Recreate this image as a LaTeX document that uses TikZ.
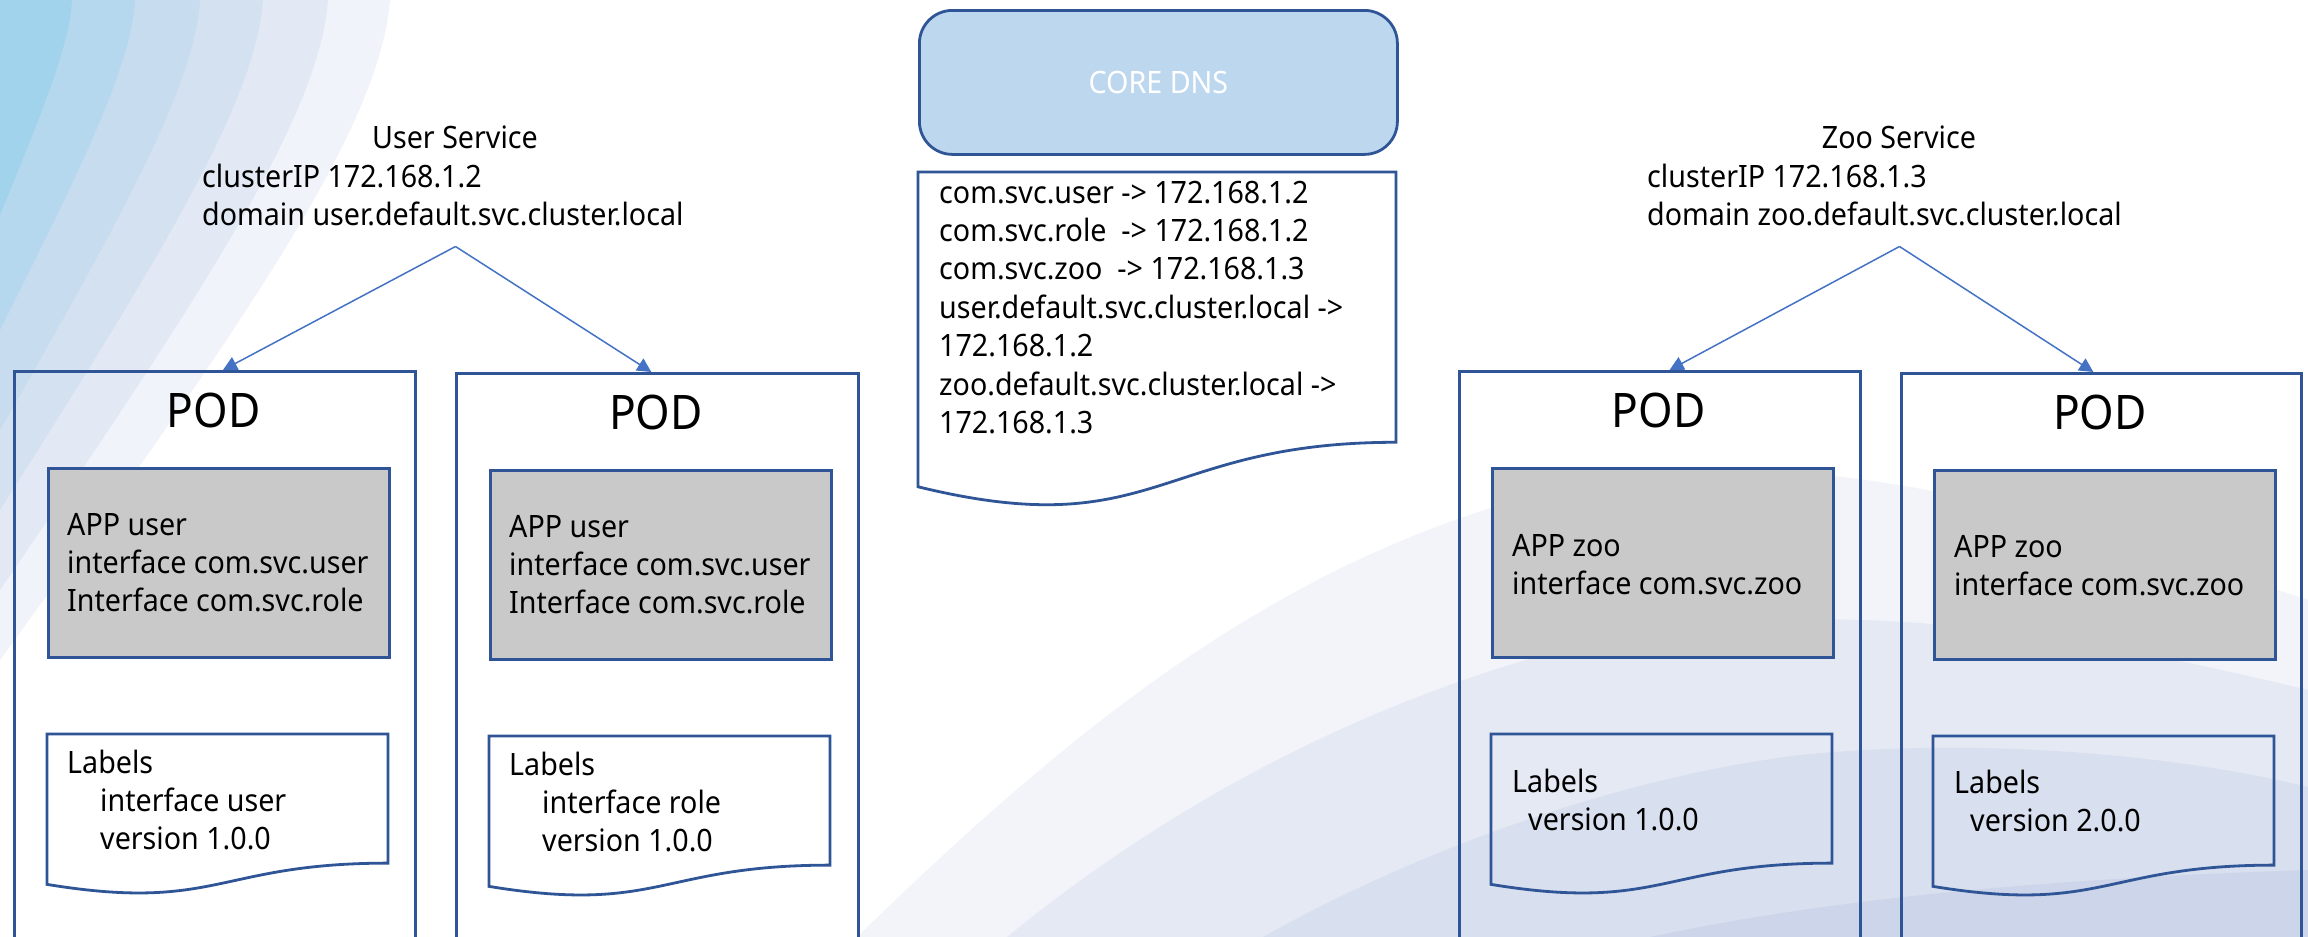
\documentclass[tikz,border=0pt]{standalone}
\usepackage{fontspec}
\setmainfont{Noto Sans}[FakeStretch=0.93]
\usetikzlibrary{arrows.meta,calc}

\definecolor{edgeblue}{HTML}{2F5597}
\definecolor{linkblue}{HTML}{4472C4}
\definecolor{dnsfill}{HTML}{BDD7EE}
\definecolor{appfill}{HTML}{C9C9C9}
\definecolor{skyA}{HTML}{F0F3F9}
\definecolor{skyB}{HTML}{E2E9F4}
\definecolor{skyC}{HTML}{D4E1F1}
\definecolor{skyD}{HTML}{C7DCEF}
\definecolor{skyE}{HTML}{B6D8EE}
\definecolor{skyF}{HTML}{A2D3EC}
\definecolor{waveA}{HTML}{F2F4FA}
\definecolor{waveB}{HTML}{E4E9F4}
\definecolor{waveC}{HTML}{D8DFEE}
\definecolor{waveD}{HTML}{CCD5E9}

\newcommand\bodyfont{\fontsize{30.8}{38.4}\selectfont}
\newcommand\podfont{\fontsize{47.6}{56}\selectfont}
\newcommand\lines[1]{\begin{tabular}[t]{@{}l@{}}#1\end{tabular}}

% curved band of the upper-left backdrop: top edge at x=#1, left edge at y=#2
\newcommand\tlband[3]{\fill[#3] (0,0) -- (#1,0)
  .. controls ({0.974*#1},{0.197*#2}) and ({0.615*#1},{0.5*#2}) .. (0,#2) -- cycle;}

% wavy-bottom document outline around a placeholder node
\newcommand\docpath[1]{\draw[shapeline] (#1.north west) -- (#1.north east)
  -- ($(#1.north east)!0.802!(#1.south east)$)
  .. controls ($(#1.north)!0.802!(#1.south)$) and ($(#1.north)!1.1075!(#1.south)$)
  .. ($(#1.north west)!0.934!(#1.south west)$) -- cycle;}

\tikzset{
  shapeline/.style={draw=edgeblue, line width=2.8pt},
  podbox/.style={shapeline, rectangle, anchor=north west, inner sep=0,
    minimum width=401, minimum height=640},
  appbox/.style={shapeline, rectangle, fill=appfill, anchor=north west,
    inner sep=0, minimum width=341, minimum height=189},
  docframe/.style={rectangle, draw=none, anchor=north west, inner sep=0,
    outer sep=0, minimum width=341, minimum height=161},
  dnsbox/.style={shapeline, rectangle, rounded corners=33pt, fill=dnsfill,
    anchor=north west, inner sep=0, minimum width=478, minimum height=144,
    font=\bodyfont, text=white},
  txt/.style={inner sep=0, anchor=base west, font=\bodyfont},
  podlabel/.style={inner sep=0, anchor=base, font=\podfont},
  link/.style={draw=linkblue, line width=1.5pt,
    -{Triangle[length=14pt, width=14pt]}},
}

\begin{document}
\begin{tikzpicture}[x=1pt, y=-1pt]
\path[use as bounding box] (0,0) rectangle (2308,937);
\clip (0,0) rectangle (2308,937);
\fill[white] (0,0) rectangle (2308,937);

% upper-left backdrop bands
\tlband{390}{660}{skyA}
\tlband{328}{590}{skyB}
\tlband{263}{510}{skyC}
\tlband{200}{430}{skyD}
\tlband{135}{330}{skyE}
\tlband{72}{215}{skyF}

% lower-right backdrop waves
\fill[waveA] (857,937) .. controls (1080,720) and (1300,540) .. (1600,480)
  .. controls (1850,440) and (2100,530) .. (2308,600) -- (2308,937) -- cycle;
\fill[waveB] (1007,937) .. controls (1150,820) and (1350,700) .. (1600,640)
  .. controls (1850,590) and (2100,640) .. (2308,690) -- (2308,937) -- cycle;
\fill[waveC] (1263,937) .. controls (1400,860) and (1600,780) .. (1800,755)
  .. controls (2000,735) and (2200,760) .. (2308,787) -- (2308,937) -- cycle;
\fill[waveD] (1650,937) .. controls (1800,905) and (2000,880) .. (2308,870)
  -- (2308,937) -- cycle;

% CoreDNS
\node[dnsbox] (dns) at (918,9) {CORE DNS};
\node[docframe, minimum width=478, minimum height=337] (dnsdoc) at (918,172) {};
\docpath{dnsdoc}
\node[txt] (dnstext) at (939,203) {\lines{%
  com.svc.user -> 172.168.1.2\\
  com.svc.role\ \ -> 172.168.1.2\\
  com.svc.zoo\ \ -> 172.168.1.3\\
  user.default.svc.cluster.local ->\\
  172.168.1.2\\
  zoo.default.svc.cluster.local ->\\
  172.168.1.3}};

% services
\node[txt, anchor=base] (usvc) at (455,148) {User Service};
\node[txt] (usvcinfo) at (202,187) {\lines{clusterIP 172.168.1.2\\
  domain user.default.svc.cluster.local}};
\node[txt, anchor=base] (zsvc) at (1899,148) {Zoo Service};
\node[txt] (zsvcinfo) at (1647,187) {\lines{clusterIP 172.168.1.3\\
  domain zoo.default.svc.cluster.local}};
\coordinate (uapex) at (455.5,246.5);
\coordinate (zapex) at (1899.5,246.5);

% pods
\node[podbox] (pod1) at (13,370) {};
\node[podbox, minimum width=402] (pod2) at (455,372) {};
\node[podbox] (pod3) at (1458,370) {};
\node[podbox, minimum width=400] (pod4) at (1900,372) {};
\node[podlabel] (pod1t) at (213.5,427) {POD};
\node[podlabel] (pod2t) at (656,429) {POD};
\node[podlabel] (pod3t) at (1658.5,427) {POD};
\node[podlabel] (pod4t) at (2100,429) {POD};

% applications
\node[appbox] (app1) at (47,467) {};
\node[appbox] (app2) at (489,469) {};
\node[appbox] (app3) at (1491,467) {};
\node[appbox] (app4) at (1933,469) {};
\node[txt] (app1t) at (67,535) {\lines{APP user\\interface com.svc.user\\Interface com.svc.role}};
\node[txt] (app2t) at (509,537) {\lines{APP user\\interface com.svc.user\\Interface com.svc.role}};
\node[txt] (app3t) at (1512,556) {\lines{APP zoo\\interface com.svc.zoo}};
\node[txt] (app4t) at (1954,557) {\lines{APP zoo\\interface com.svc.zoo}};

% pod labels
\node[docframe] (lab1) at (47,734) {};
\node[docframe] (lab2) at (489,736) {};
\node[docframe] (lab3) at (1491,734) {};
\node[docframe] (lab4) at (1933,736) {};
\docpath{lab1}
\docpath{lab2}
\docpath{lab3}
\docpath{lab4}
\node[txt] (lab1t) at (67,773) {\lines{Labels\\\hspace*{33pt}interface user\\\hspace*{33pt}version 1.0.0}};
\node[txt] (lab2t) at (509,775) {\lines{Labels\\\hspace*{33pt}interface role\\\hspace*{33pt}version 1.0.0}};
\node[txt] (lab3t) at (1512,792) {\lines{Labels\\\hspace*{16pt}version 1.0.0}};
\node[txt] (lab4t) at (1954,793) {\lines{Labels\\\hspace*{16pt}version 2.0.0}};

% service to pod links
\draw[link] (uapex) -- ($(pod1.north west)!0.52!(pod1.north east)$);
\draw[link] (uapex) -- ($(pod2.north west)!0.485!(pod2.north east)$);
\draw[link] (zapex) -- ($(pod3.north west)!0.524!(pod3.north east)$);
\draw[link] (zapex) -- ($(pod4.north west)!0.48!(pod4.north east)$);
\end{tikzpicture}
\end{document}
